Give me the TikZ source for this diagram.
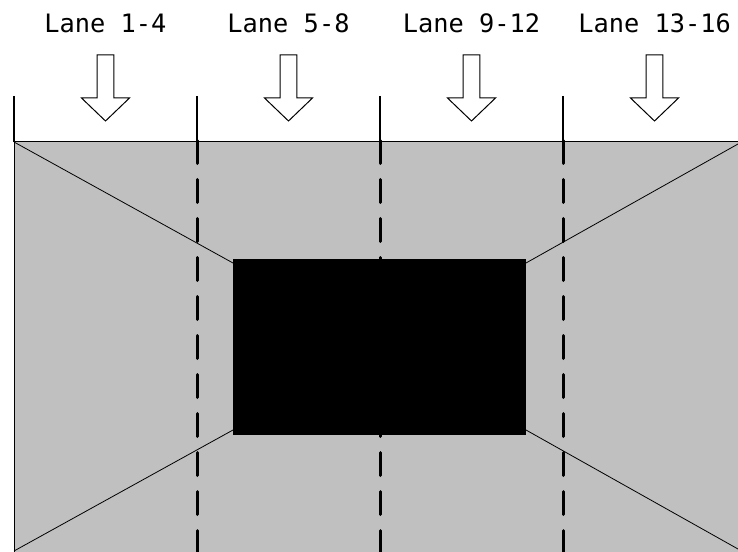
\documentclass[tikz,border=0pt]{standalone}
\usepackage{fontspec}
\setmonofont{DejaVu Sans Mono}
\definecolor{roadGrey}{HTML}{C0C0C0}
\tikzset{
  road/.style={draw=black, line width=0.75pt, fill=roadGrey},
  obstacle/.style={fill=black},
  edge/.style={draw=black, line width=0.6pt},
  tick/.style={draw=black, line width=1.5pt},
  divider/.style={draw=black, line width=2.25pt, line cap=round,
              dash pattern=on 17.25pt off 12pt},
  lanearrow/.style={draw=black, line width=0.75pt, fill=white, line join=miter},
  lanelbl/.style={font=\ttfamily\fontsize{19}{22}\selectfont, anchor=base, inner sep=0pt},
}

\begin{document}
\begin{tikzpicture}[x=0.75pt,y=-0.75pt]
  \useasboundingbox (0,0) rectangle (738,552);
  % road surface
  \draw[road] (14,142) rectangle (745,560);
  \coordinate (tl) at (14,142);  \coordinate (tr) at (738,144);
  \coordinate (bl) at (14,551);  \coordinate (br) at (738,549);
  \coordinate (itl) at (233,263); \coordinate (itr) at (526,263);
  \coordinate (ibl) at (233,430); \coordinate (ibr) at (526,430);
  \foreach \a/\b in {tl/itl,tr/itr,bl/ibl,br/ibr}{\draw[edge](\a)--(\b);}
  % lane dividers
  \foreach \x in {197,380,563}{\draw[divider](\x,140.5)--(\x,575);}
  \fill[obstacle] (233,259) rectangle (526,435);
  \foreach \x in {14,197,380,563}{\draw[tick](\x,96)--(\x,142);}
  % lanes
  \foreach \x/\txt [count=\i] in {105.5/1-4,288.5/5-8,471.5/9-12,654.5/13-16}{
    \node[lanelbl] (lane\i) at (\x,33) {Lane \txt};
    \draw[lanearrow] (\x-8.3,55) -- (\x+8.3,55) -- (\x+8.3,98) -- (\x+24,98)
      -- (\x,121) -- (\x-24,98) -- (\x-8.3,98) -- cycle;
  }
\end{tikzpicture}
\end{document}
